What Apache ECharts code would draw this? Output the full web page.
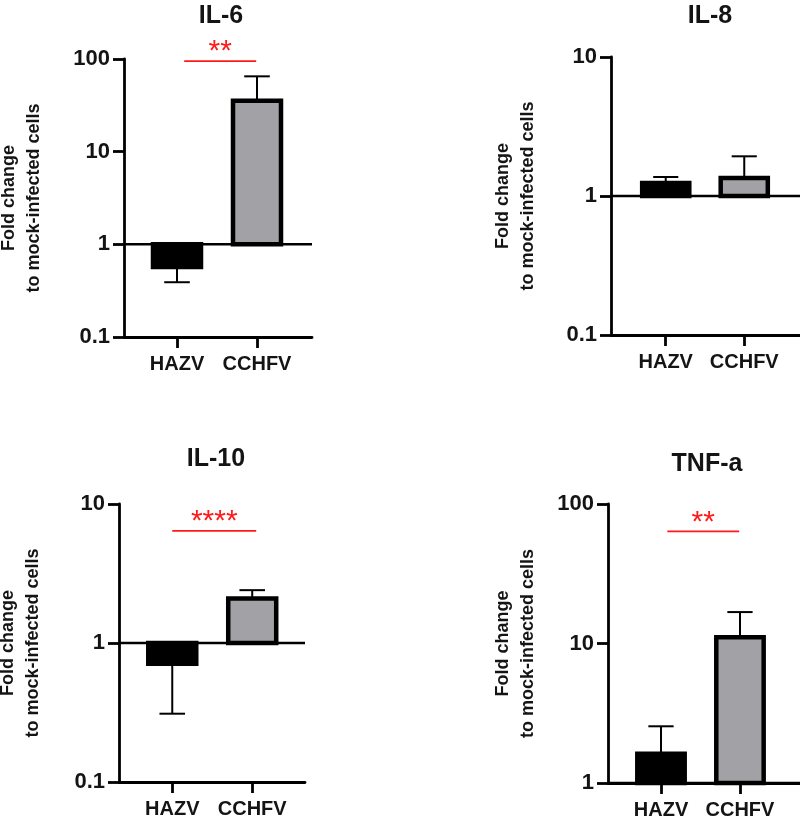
<!DOCTYPE html>
<html>
<head>
<meta charset="utf-8">
<script src="https://cdn.jsdelivr.net/npm/echarts@6/dist/echarts.min.js"></script>
<style>html,body{margin:0;padding:0;background:#fff;}#chart{width:800px;height:817px;}</style>
</head>
<body>
<div id="chart"></div>
<script>
// ---- data ----
const categories = ['HAZV', 'CCHFV'];
const categoryPositions = [1, 2];
const panelTitles = ['IL-6', 'IL-8', 'IL-10', 'TNF-a'];
const il6Means = [0.57, 35.4];
const il6ErrEnds = [0.39, 65];
const il8Means = [1.24, 1.35];
const il8ErrEnds = [1.37, 1.93];
const il10Means = [0.71, 2.09];
const il10ErrEnds = [0.31, 2.40];
const tnfMeans = [1.62, 11.1];
const tnfErrEnds = [2.55, 16.8];
const il6YTicks = [0.1, 1, 10, 100];
const il8YTicks = [0.1, 1, 10];
const il10YTicks = [0.1, 1, 10];
const tnfYTicks = [1, 10, 100];
const sigLabels = ['**', null, '****', '**'];
const sigLevels = [95, null, 6.4, 63.6];
const sigStarts = [1.09, null, 1.0, 1.08];
const sigEnds = [1.99, null, 2.05, 1.99];
const barColors = ['#000000', '#a2a2a6'];

const meansList = [il6Means, il8Means, il10Means, tnfMeans];
const errList = [il6ErrEnds, il8ErrEnds, il10ErrEnds, tnfErrEnds];
const yTickList = [il6YTicks, il8YTicks, il10YTicks, tnfYTicks];

// ---- layout ----
const grids = [
  {left: 124, top: 59, width: 188, height: 278, outerBoundsMode: 'none', containLabel: false},
  {left: 611, top: 57, width: 189, height: 278, outerBoundsMode: 'none', containLabel: false},
  {left: 119, top: 504, width: 186, height: 278, outerBoundsMode: 'none', containLabel: false},
  {left: 608, top: 504, width: 192, height: 279, outerBoundsMode: 'none', containLabel: false}
];
const xRanges = [[0.3375, 2.6875], [0.303, 2.71], [0.334, 2.66], [0.329, 2.76]];
const titlePos = [[216, -1], [705, -1], [211, 442], [702, 447]];
const nameGaps = [77, 70, 73, 67];
const FONT = 'Liberation Sans, Arial, sans-serif';
const TXT = '#141414';

const chart = echarts.init(document.getElementById('chart'), null, {renderer: 'canvas'});

const fmt = v => (v < 1 ? Number(v).toFixed(1) : String(Math.round(v)));

const xAxis = [], yAxis = [], series = [], title = [];
for (let i = 0; i < 4; i++) {
  title.push({
    text: panelTitles[i], left: titlePos[i][0], top: titlePos[i][1], textAlign: 'center',
    textStyle: {fontFamily: FONT, fontWeight: 'bold', fontSize: 25, color: TXT}
  });
  xAxis.push({
    type: 'value', gridIndex: i, min: xRanges[i][0], max: xRanges[i][1],
    splitLine: {show: false},
    axisLine: {show: true, lineStyle: {color: '#000', width: 2.8}},
    axisTick: {show: true, length: 11, lineStyle: {color: '#000', width: 2.8}, customValues: categoryPositions},
    axisLabel: {
      customValues: categoryPositions, margin: 17,
      formatter: v => categories[Math.round(v) - 1] || '',
      fontFamily: FONT, fontWeight: 'bold', fontSize: 20, color: TXT
    }
  });
  const ticks = yTickList[i];
  yAxis.push({
    type: 'log', logBase: 10, gridIndex: i, min: ticks[0], max: ticks[ticks.length - 1],
    splitLine: {show: false}, minorTick: {show: false},
    axisLine: {show: true, lineStyle: {color: '#000', width: 2.8}},
    axisTick: {show: true, length: 11, lineStyle: {color: '#000', width: 2.8}, customValues: ticks},
    axisLabel: {
      customValues: ticks, margin: 14, formatter: fmt,
      fontFamily: FONT, fontWeight: 'bold', fontSize: 22, color: TXT
    },
    name: 'Fold change\nto mock-infected cells', nameLocation: 'middle', nameRotate: 90, nameGap: nameGaps[i],
    nameTextStyle: {fontFamily: FONT, fontWeight: 'bold', fontSize: 18, color: TXT, lineHeight: 25}
  });

  // baseline at 1
  series.push({
    type: 'custom', xAxisIndex: i, yAxisIndex: i, z: 5, silent: true,
    data: [[1, 1]],
    renderItem: (params, api) => {
      const cs = params.coordSys;
      const y = api.coord([1, api.value(1)])[1];
      return {type: 'line', shape: {x1: cs.x, y1: y, x2: cs.x + cs.width, y2: y},
        style: {stroke: '#000', lineWidth: 2.5}};
    }
  });

  // bars with error bars
  const data = categoryPositions.map((p, k) => [p, meansList[i][k], errList[i][k], k]);
  series.push({
    type: 'custom', xAxisIndex: i, yAxisIndex: i, z: 4, silent: true,
    data: data,
    renderItem: (params, api) => {
      const x = api.value(0), m = api.value(1), e = api.value(2), k = api.value(3);
      const pm = api.coord([x, m]);
      const pe = api.coord([x, e]);
      const p1 = api.coord([x, 1]);
      const half = api.coord([x + 0.3, 1])[0] - p1[0];
      const cap = api.coord([x + 0.16, 1])[0] - p1[0];
      return {
        type: 'group',
        children: [
          {type: 'line', shape: {x1: pm[0], y1: pm[1], x2: pe[0], y2: pe[1]}, style: {stroke: '#000', lineWidth: 2}},
          {type: 'line', shape: {x1: pe[0] - cap, y1: pe[1], x2: pe[0] + cap, y2: pe[1]}, style: {stroke: '#000', lineWidth: 2}},
          {type: 'rect', shape: {x: p1[0] - half, y: Math.min(pm[1], p1[1]), width: 2 * half, height: Math.abs(pm[1] - p1[1])},
            style: {fill: barColors[k], stroke: '#000', lineWidth: 4.5}}
        ]
      };
    }
  });

  // significance annotation
  if (sigLabels[i]) {
    series.push({
      type: 'custom', xAxisIndex: i, yAxisIndex: i, z: 6, silent: true,
      data: [[sigStarts[i], sigEnds[i], sigLevels[i]]],
      renderItem: (params, api) => {
        const a = api.coord([api.value(0), api.value(2)]);
        const b = api.coord([api.value(1), api.value(2)]);
        return {
          type: 'group',
          children: [
            {type: 'line', shape: {x1: a[0], y1: a[1], x2: b[0], y2: b[1]}, style: {stroke: '#ff1a1a', lineWidth: 1.8}},
            {type: 'text', x: (a[0] + b[0]) / 2, y: a[1] + 6,
              style: {text: sigLabels[i], fill: '#ff1a1a', font: '30px ' + FONT, align: 'center', verticalAlign: 'bottom'}}
          ]
        };
      }
    });
  }
}

chart.setOption({
  animation: false,
  backgroundColor: '#ffffff',
  title: title,
  grid: grids,
  xAxis: xAxis,
  yAxis: yAxis,
  series: series
});
</script>
</body>
</html>
